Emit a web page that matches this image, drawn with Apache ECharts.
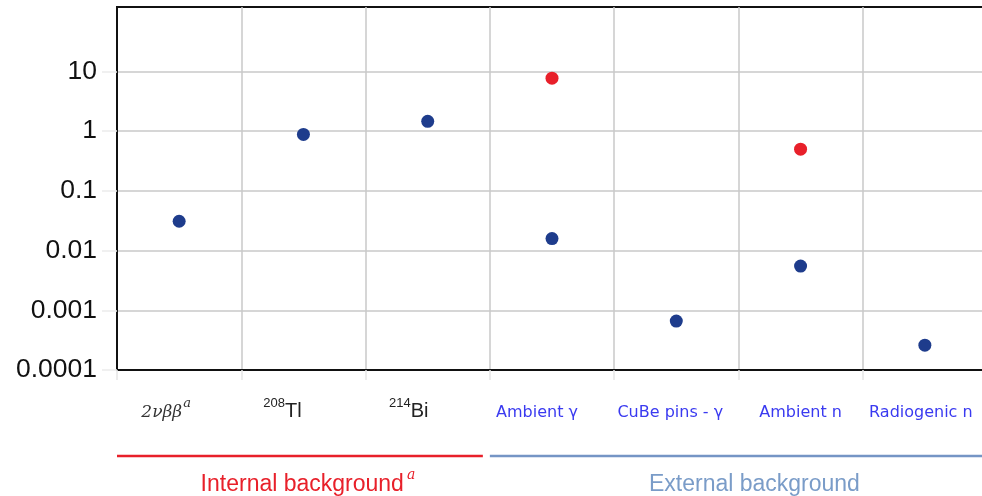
<!DOCTYPE html>
<html><head><meta charset="utf-8">
<script src="https://cdn.jsdelivr.net/npm/echarts@6/dist/echarts.min.js"></script>
<style>html,body{margin:0;padding:0;background:#fff}#c{width:982px;height:496px}</style>
</head><body><div id="c"></div>
<script>
var categories = ['2νββ^a', '208Tl', '214Bi', 'Ambient γ', 'CuBe pins - γ', 'Ambient n', 'Radiogenic n'];
var blueValues = [0.031, 0.88, 1.46, 0.0159, 0.00066, 0.0055, 0.00026];
var redValues = [null, null, null, 7.7, null, 0.50, null];
var yTickValues = [0.0001, 0.001, 0.01, 0.1, 1, 10];
var yTickLabels = ['0.0001', '0.001', '0.01', '0.1', '1', '10'];
var groups = [
  {name: 'Internal background', sup: 'a', from: 0, to: 2, color: '#e8202a', text: '#e8202a'},
  {name: 'External background', sup: '', from: 3, to: 6, color: '#7595c5', text: '#7a9cc8'}
];

var chart = echarts.init(document.getElementById('c'));
// visual left shift of each label (style only)
var labelSpacer = {'2νββ^a': 26, '208Tl': 42, '214Bi': 38, 'Ambient γ': 30, 'CuBe pins - γ': 12, 'Ambient n': 0, 'Radiogenic n': 8};
function catLabel(v) {
  var s;
  if (v === '2νββ^a') s = '{it|2νββ}{supi|a}';
  else if (v === '208Tl') s = '{sup|208}{d|Tl}';
  else if (v === '214Bi') s = '{sup|214}{d|Bi}';
  else s = '{b|' + v + '}';
  var w = labelSpacer[v] || 0;
  if (w) s += '{sp' + w + '|}';
  return s;
}
var richStyles = {
  it: {fontFamily: 'DejaVu Serif', fontStyle: 'italic', fontSize: 17, color: '#333', lineHeight: 24, verticalAlign: 'bottom'},
  supi: {fontFamily: 'DejaVu Serif', fontStyle: 'italic', fontSize: 13, color: '#333', lineHeight: 24, verticalAlign: 'top', padding: [0, 0, 0, 1]},
  sup: {fontFamily: 'Liberation Sans', fontSize: 13, color: '#222', lineHeight: 24, verticalAlign: 'top'},
  d: {fontFamily: 'Liberation Sans', fontSize: 20, color: '#222', lineHeight: 24, verticalAlign: 'bottom'},
  b: {fontFamily: 'DejaVu Sans', fontSize: 16, color: '#3a3af0', lineHeight: 24, verticalAlign: 'bottom'}
};
Object.keys(labelSpacer).forEach(function (k) {
  var w = labelSpacer[k];
  if (w) richStyles['sp' + w] = {width: w, lineHeight: 24};
});
chart.setOption({
  animation: false,
  grid: {left: 117, width: 870, top: 7, bottom: 126, outerBoundsMode: 'none', containLabel: false,
         show: true, borderColor: '#111', borderWidth: 2},
  xAxis: {
    type: 'category', data: categories,
    axisLine: {show: true, lineStyle: {color: '#111', width: 2}},
    axisTick: {show: true, length: 10, lineStyle: {color: '#e6e6e6', width: 1.5}},
    splitLine: {show: true, lineStyle: {color: '#c8c8c8', width: 1.5}},
    axisLabel: {
      interval: 0, margin: 27,
      formatter: catLabel,
      rich: richStyles
    }
  },
  yAxis: {
    type: 'log', logBase: 10, min: 0.0001, max: 120,
    axisLine: {show: true, lineStyle: {color: '#111', width: 2}},
    axisTick: {show: true, length: 15, customValues: yTickValues, lineStyle: {color: '#ececec', width: 1.5}},
    splitLine: {show: true, lineStyle: {color: '#c8c8c8', width: 1.5}},
    axisLabel: {
      customValues: yTickValues, margin: 20,
      fontFamily: 'Liberation Sans', fontSize: 26.5, color: '#111',
      formatter: function (v) {
        for (var i = 0; i < yTickValues.length; i++) {
          if (Math.abs(Math.log10(v) - Math.log10(yTickValues[i])) < 1e-6) return yTickLabels[i];
        }
        return '';
      }
    }
  },
  series: [
    {type: 'scatter', name: 'blue', data: blueValues, symbolSize: 13, itemStyle: {color: '#1e3c8c', opacity: 1}},
    {type: 'scatter', name: 'red', data: redValues, symbolSize: 13, itemStyle: {color: '#e8202a', opacity: 1}}
  ]
});

// group brackets beneath the axis, positioned from the category scale
var c0 = chart.convertToPixel({xAxisIndex: 0}, 0);
var c1 = chart.convertToPixel({xAxisIndex: 0}, 1);
var band = c1 - c0;
var elements = [];
groups.forEach(function (g, gi) {
  var x1 = chart.convertToPixel({xAxisIndex: 0}, g.from) - band / 2;
  var x2 = chart.convertToPixel({xAxisIndex: 0}, g.to) + band / 2;
  if (gi === 0) x2 -= 7;
  elements.push({type: 'line', shape: {x1: x1, y1: 456, x2: x2, y2: 456}, style: {stroke: g.color, lineWidth: 2.5}, silent: true});
  var cx = (x1 + x2) / 2 + (gi === 0 ? 8 : 16);
  elements.push({
    type: 'text', x: cx, y: 482,
    style: {
      text: '{m|' + g.name + '}' + (g.sup ? '{s|' + g.sup + '}' : ''),
      align: 'center', verticalAlign: 'middle',
      rich: {
        m: {fontFamily: 'Liberation Sans', fontSize: 23, fill: g.text, lineHeight: 28, verticalAlign: 'bottom'},
        s: {fontFamily: 'DejaVu Serif', fontStyle: 'italic', fontSize: 14, fill: g.text, lineHeight: 28, verticalAlign: 'top', padding: [0, 0, 0, 3]}
      }
    },
    silent: true
  });
});
chart.setOption({graphic: {elements: elements}});
</script>
</body></html>
